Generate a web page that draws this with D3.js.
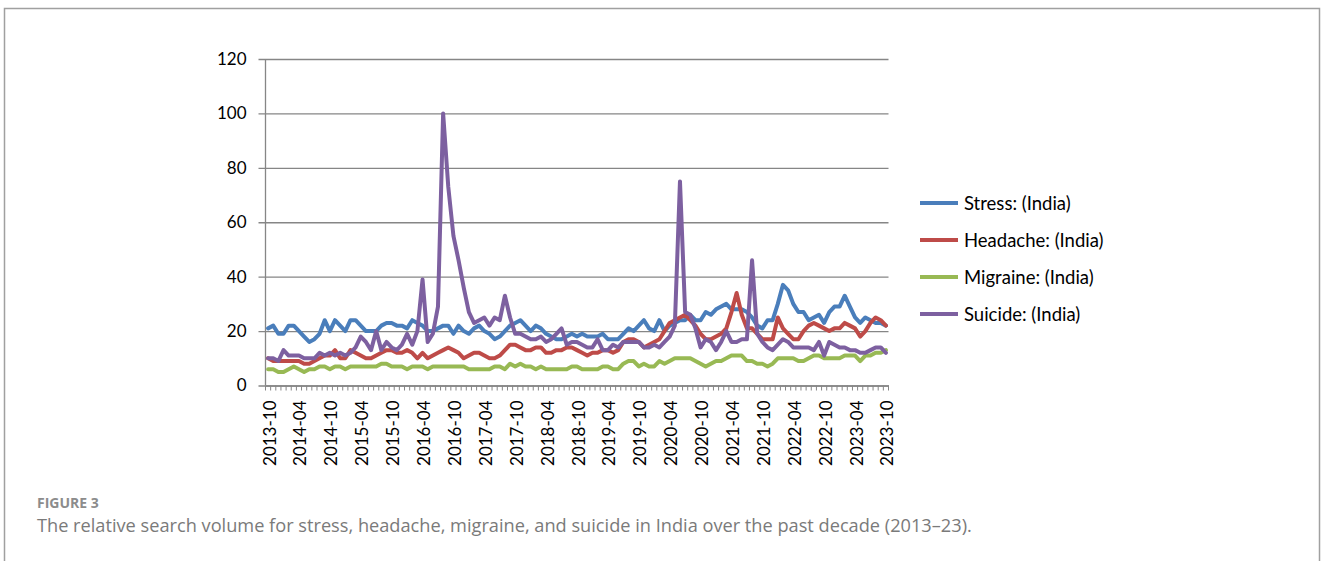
<!DOCTYPE html>
<html>
<head>
<meta charset="utf-8">
<script src="https://cdn.jsdelivr.net/npm/d3@7"></script>
<style>
  html, body { margin: 0; padding: 0; background: #fff; }
  svg { display: block; }
</style>
</head>
<body>
<svg id="chart" width="1327" height="561"></svg>
<script>
// Monthly relative search volume (Google Trends, India), 2013-10 .. 2023-10
const firstMonth = new Date(Date.UTC(2013, 9, 1));
const lastMonth = new Date(Date.UTC(2023, 9, 1));
const categories = d3.utcMonth.range(firstMonth, d3.utcMonth.offset(lastMonth, 1)).map(d3.utcFormat("%Y-%m"));

const tickLabels = [
  "2013-10","2014-04","2014-10","2015-04","2015-10","2016-04","2016-10",
  "2017-04","2017-10","2018-04","2018-10","2019-04","2019-10","2020-04",
  "2020-10","2021-04","2021-10","2022-04","2022-10","2023-04","2023-10"
];
const yTicks = [0, 20, 40, 60, 80, 100, 120];

const seriesNames = ["Stress: (India)", "Headache: (India)", "Migraine: (India)", "Suicide: (India)"];
const seriesColors = ["#4a7ebb", "#be4b48", "#98b954", "#7d60a0"];

const stress = [
  21, 22, 19, 19, 22, 22, 20, 18, 16, 17,
  19, 24, 20, 24, 22, 20, 24, 24, 22, 20,
  20, 20, 22, 23, 23, 22, 22, 21, 24, 23,
  22, 20, 20, 21, 22, 22, 19, 22, 20, 19,
  21, 22, 20, 19, 17, 18, 20, 22, 23, 24,
  22, 20, 22, 21, 19, 18, 17, 17, 18, 19,
  18, 19, 18, 18, 18, 19, 17, 17, 17, 19,
  21, 20, 22, 24, 21, 20, 24, 20, 22, 23,
  24, 24, 26, 24, 24, 27, 26, 28, 29, 30,
  28, 28, 28, 27, 25, 22, 21, 24, 24, 30,
  37, 35, 30, 27, 27, 24, 25, 26, 23, 27,
  29, 29, 33, 29, 25, 23, 25, 24, 23, 23, 22
];

const headache = [
  10, 9, 9, 9, 9, 9, 9, 8, 8, 9,
  10, 11, 11, 13, 10, 10, 13, 12, 11, 10,
  10, 11, 12, 13, 13, 12, 12, 13, 12, 10,
  12, 10, 11, 12, 13, 14, 13, 12, 10, 11,
  12, 12, 11, 10, 10, 11, 13, 15, 15, 14,
  13, 13, 14, 14, 12, 12, 13, 13, 14, 14,
  13, 12, 11, 12, 12, 13, 13, 12, 13, 16,
  17, 17, 16, 14, 15, 16, 17, 20, 23, 24,
  25, 26, 24, 22, 19, 17, 17, 18, 19, 21,
  27, 34, 26, 21, 21, 19, 17, 17, 17, 25,
  21, 19, 17, 17, 20, 22, 23, 22, 21, 20,
  21, 21, 23, 22, 21, 18, 20, 23, 25, 24, 22
];

const migraine = [
  6, 6, 5, 5, 6, 7, 6, 5, 6, 6,
  7, 7, 6, 7, 7, 6, 7, 7, 7, 7,
  7, 7, 8, 8, 7, 7, 7, 6, 7, 7,
  7, 6, 7, 7, 7, 7, 7, 7, 7, 6,
  6, 6, 6, 6, 7, 7, 6, 8, 7, 8,
  7, 7, 6, 7, 6, 6, 6, 6, 6, 7,
  7, 6, 6, 6, 6, 7, 7, 6, 6, 8,
  9, 9, 7, 8, 7, 7, 9, 8, 9, 10,
  10, 10, 10, 9, 8, 7, 8, 9, 9, 10,
  11, 11, 11, 9, 9, 8, 8, 7, 8, 10,
  10, 10, 10, 9, 9, 10, 11, 11, 10, 10,
  10, 10, 11, 11, 11, 9, 11, 11, 12, 12, 13
];

const suicide = [
  10, 10, 9, 13, 11, 11, 11, 10, 10, 10,
  12, 11, 12, 11, 12, 11, 12, 14, 18, 16,
  13, 20, 13, 16, 14, 13, 15, 19, 15, 20,
  39, 16, 19, 29, 100, 73, 55, 46, 36, 27,
  23, 24, 25, 22, 25, 24, 33, 25, 19, 19,
  18, 17, 17, 18, 16, 17, 19, 21, 15, 16,
  16, 15, 14, 14, 17, 13, 13, 15, 14, 16,
  16, 16, 16, 14, 14, 15, 14, 16, 18, 22,
  75, 27, 26, 21, 14, 17, 16, 13, 16, 20,
  16, 16, 17, 17, 46, 19, 16, 14, 13, 15,
  17, 16, 14, 14, 14, 14, 13, 16, 11, 16,
  15, 14, 14, 13, 13, 12, 12, 13, 14, 14, 12
];

const seriesValues = [stress, headache, migraine, suicide];

// ---- layout ----
const plot = { left: 265.5, right: 888.5, top: 59, bottom: 385.5 };
const axisGrey = "#868686";
const chartFont = "Lato, 'Open Sans', sans-serif";
const axisFontSize = 17;
const legendFontSize = 18.5;

const svg = d3.select("#chart");

// outer figure frame
svg.append("rect")
  .attr("x", 4.5).attr("y", 8.5)
  .attr("width", 1315).attr("height", 570)
  .attr("fill", "#fff")
  .attr("stroke", "#a0a0a0")
  .attr("stroke-width", 1.5);

const x = d3.scaleBand().domain(categories).range([plot.left, plot.right]).paddingInner(0).paddingOuter(0);
const cx = c => x(c) + x.bandwidth() / 2;
const y = d3.scaleLinear().domain([0, 120]).range([plot.bottom, plot.top]);

// horizontal gridlines + y labels
const yAxis = d3.axisLeft(y)
  .tickValues(yTicks)
  .tickFormat(d3.format("d"))
  .tickSizeInner(-(plot.right - (plot.left - 7)))
  .tickSizeOuter(0)
  .tickPadding(12);

const gy = svg.append("g")
  .attr("transform", `translate(${plot.left - 7},0)`)
  .call(yAxis);
gy.select(".domain").remove();
gy.selectAll(".tick line").attr("stroke", axisGrey).attr("stroke-width", 1.3);
gy.selectAll(".tick text")
  .attr("fill", "#000")
  .style("font-family", chartFont)
  .style("font-size", axisFontSize + "px");

// vertical axis line
svg.append("line")
  .attr("x1", plot.left).attr("x2", plot.left)
  .attr("y1", plot.top).attr("y2", plot.bottom)
  .attr("stroke", axisGrey).attr("stroke-width", 1.3);

// category axis: labels every six months, rotated
const xAxis = d3.axisBottom(x)
  .tickValues(tickLabels)
  .tickSize(0)
  .tickPadding(0);

const gx = svg.append("g")
  .attr("transform", `translate(0,${plot.bottom})`)
  .call(xAxis);
gx.select(".domain")
  .attr("stroke", axisGrey).attr("stroke-width", 1.3);
gx.selectAll(".tick text")
  .attr("fill", "#000")
  .style("font-family", chartFont)
  .style("font-size", axisFontSize + "px")
  .attr("text-anchor", "end")
  .attr("dy", null)
  .attr("dominant-baseline", "central")
  .attr("transform", "translate(1,15) rotate(-90)")
  .attr("y", 0);

// minor tick marks on category boundaries
const boundaries = categories.map(c => x(c)).concat([plot.right]);
gx.append("g").selectAll("line")
  .data(boundaries)
  .join("line")
  .attr("x1", d => d).attr("x2", d => d)
  .attr("y1", 0).attr("y2", 5)
  .attr("stroke", axisGrey).attr("stroke-width", 1);

// series lines
const line = d3.line()
  .x((d, i) => cx(categories[i]))
  .y(d => y(d))
  .curve(d3.curveLinear);

svg.append("g").selectAll("path")
  .data(seriesValues)
  .join("path")
  .attr("d", d => line(d))
  .attr("fill", "none")
  .attr("stroke", (d, i) => seriesColors[i])
  .attr("stroke-width", 4)
  .attr("stroke-linejoin", "round")
  .attr("stroke-linecap", "round");

// legend
const legend = svg.append("g").attr("transform", "translate(920,203)");
const items = legend.selectAll("g")
  .data(seriesNames)
  .join("g")
  .attr("transform", (d, i) => `translate(0,${i * 37})`);
items.append("line")
  .attr("x1", 0).attr("x2", 38)
  .attr("y1", 0).attr("y2", 0)
  .attr("stroke", (d, i) => seriesColors[i])
  .attr("stroke-width", 4);
items.append("text")
  .attr("x", 44).attr("y", 0)
  .attr("dominant-baseline", "central")
  .style("font-family", chartFont)
  .style("font-size", legendFontSize + "px")
  .attr("fill", "#000")
  .text(d => d);

// figure caption
svg.append("text")
  .attr("x", 37).attr("y", 508)
  .style("font-family", "'Open Sans', sans-serif")
  .style("font-size", "14px")
  .style("font-weight", 700)
  .attr("fill", "#8c8c8c")
  .text("FIGURE 3");

svg.append("text")
  .attr("x", 37).attr("y", 532)
  .style("font-family", "'Open Sans', sans-serif")
  .style("font-size", "18.2px")
  .attr("fill", "#7a7a7a")
  .text("The relative search volume for stress, headache, migraine, and suicide in India over the past decade (2013\u201323).");
</script>
</body>
</html>
